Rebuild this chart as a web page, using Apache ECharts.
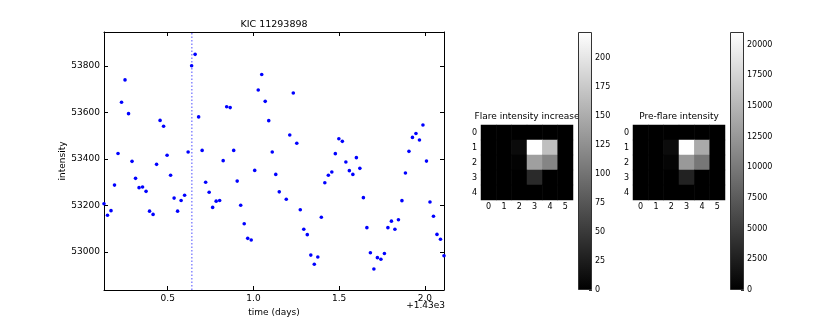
<!DOCTYPE html>
<html><head><meta charset="utf-8">
<script src="https://cdn.jsdelivr.net/npm/echarts@6/dist/echarts.min.js"></script>
<style>html,body{margin:0;padding:0;background:#fff}#c{width:830px;height:332px}</style>
</head><body><div id="c"></div>
<script>
// ---- data ----
const times = [0.1285,0.1489,0.1694,0.1898,0.2103,0.2307,0.2511,0.2716,0.2920,0.3125,
0.3329,0.3533,0.3738,0.3942,0.4147,0.4351,0.4555,0.4760,0.4964,0.5169,
0.5373,0.5577,0.5782,0.5986,0.6191,0.6395,0.6599,0.6804,0.7008,0.7213,
0.7417,0.7621,0.7826,0.8030,0.8235,0.8439,0.8643,0.8848,0.9052,0.9257,
0.9461,0.9665,0.9870,1.0074,1.0279,1.0483,1.0687,1.0892,1.1096,1.1301,
1.1505,1.1914,1.2118,1.2323,1.2527,1.2731,1.2936,1.3140,1.3345,1.3549,
1.3753,1.3958,1.4162,1.4367,1.4571,1.4775,1.4980,1.5184,1.5389,1.5593,
1.5797,1.6002,1.6206,1.6411,1.6615,1.6819,1.7024,1.7228,1.7433,1.7637,
1.7841,1.8046,1.8250,1.8455,1.8659,1.8863,1.9068,1.9272,1.9477,1.9681,
1.9885,2.0090,2.0294,2.0499,2.0703,2.0907,2.1112];
const intensity = [53208,53158,53178,53288,53424,53644,53740,53595,53390,53317,
53277,53280,53261,53176,53162,53377,53566,53541,53416,53330,
53232,53176,53222,53244,53430,53801,53850,53581,53437,53300,
53257,53192,53219,53222,53393,53625,53621,53437,53305,53201,
53122,53059,53052,53351,53697,53763,53648,53565,53430,53334,
53259,53227,53503,53684,53468,53182,53098,53075,52987,52948,
52979,53150,53298,53330,53344,53423,53487,53476,53387,53350,
53334,53406,53360,53234,53105,52997,52927,52976,52969,52994,
53105,53133,53098,53139,53221,53340,53433,53493,53510,53482,
53546,53391,53215,53154,53076,53055,52984];
const flareTime = 0.641;
const timeOffsetText = '+1.43e3';
const xRange = [0.1285, 2.1112];
const yRange = [52837, 53946];

const heatCols = ['0','1','2','3','4','5'];
const heatRows = ['0','1','2','3','4'];
const flareIncrease = [
  [0,0,0,0,0,0],
  [0,0,10,222,167,0],
  [0,0,3,139,116,0],
  [0,0,0,37,0,0],
  [0,0,0,0,0,0]
];
const preFlare = [
  [0,0,0,0,0,0],
  [0,0,1000,21034,14000,0],
  [0,0,400,12600,9800,0],
  [0,0,0,2800,0,0],
  [0,0,0,0,0,0]
];
const cb1Max = 222.4, cb1Step = 25;
const cb2Max = 21034, cb2Step = 2500;
const mainTitle = 'KIC 11293898';
const heatTitle1 = 'Flare intensity increase';
const heatTitle2 = 'Pre-flare intensity';

// ---- chart ----
const FF = 'DejaVu Sans';
const plain = v => String(v);
const toCells = m => { const out=[]; m.forEach((row,r)=>row.forEach((v,c)=>out.push([c,r,v]))); return out; };
const grad = () => new echarts.graphic.LinearGradient(0,1,0,0,[{offset:0,color:'#000000'},{offset:1,color:'#ffffff'}]);
const lineBlack = {show:true, lineStyle:{color:'#000', width:1}};
const tickIn = {show:true, inside:true, length:4, lineStyle:{color:'#000'}};

const chart = echarts.init(document.getElementById('c'), null, {renderer:'canvas'});
chart.setOption({
  animation:false,
  textStyle:{fontFamily:FF},
  grid:[
    {left:104, top:32, width:340, height:258},
    {left:481, top:125, width:92, height:75},
    {left:578, top:32, width:14, height:258},
    {left:633, top:125, width:92, height:75},
    {left:730, top:32, width:14, height:258}
  ],
  xAxis:[
    {type:'value', gridIndex:0, position:'bottom', min:xRange[0], max:xRange[1], splitNumber:4, minInterval:0.5, maxInterval:0.5,
     axisLine:lineBlack, axisTick:tickIn, splitLine:{show:false},
     axisLabel:{fontSize:9, color:'#000', fontFamily:FF, margin:4, showMinLabel:false, showMaxLabel:false, formatter:v=>v.toFixed(1)},
     name:'time (days)', nameLocation:'middle', nameGap:13, nameTextStyle:{fontSize:9, color:'#000', fontFamily:FF}},
    {type:'value', gridIndex:0, position:'top', min:xRange[0], max:xRange[1], splitNumber:4, minInterval:0.5, maxInterval:0.5,
     axisLine:lineBlack, axisTick:tickIn, splitLine:{show:false}, axisLabel:{show:false}},
    {type:'category', gridIndex:1, data:heatCols, axisLine:{show:false}, axisTick:{show:false}, splitLine:{show:false},
     axisLabel:{fontSize:8, color:'#000', fontFamily:FF, margin:3}},
    {type:'category', gridIndex:2, data:['c'], show:false},
    {type:'category', gridIndex:3, data:heatCols, axisLine:{show:false}, axisTick:{show:false}, splitLine:{show:false},
     axisLabel:{fontSize:8, color:'#000', fontFamily:FF, margin:3}},
    {type:'category', gridIndex:4, data:['c'], show:false}
  ],
  yAxis:[
    {type:'value', gridIndex:0, position:'left', min:yRange[0], max:yRange[1], splitNumber:5, minInterval:200, maxInterval:200,
     axisLine:lineBlack, axisTick:tickIn, splitLine:{show:false},
     axisLabel:{fontSize:9, color:'#000', fontFamily:FF, margin:4, showMinLabel:false, showMaxLabel:false, formatter:plain},
     name:'intensity', nameLocation:'middle', nameGap:31, nameRotate:90, nameTextStyle:{fontSize:9, color:'#000', fontFamily:FF}},
    {type:'value', gridIndex:0, position:'right', min:yRange[0], max:yRange[1], splitNumber:5, minInterval:200, maxInterval:200,
     axisLine:lineBlack, axisTick:tickIn, splitLine:{show:false}, axisLabel:{show:false}},
    {type:'category', gridIndex:1, data:heatRows, inverse:true, axisLine:{show:false}, axisTick:{show:false}, splitLine:{show:false},
     axisLabel:{fontSize:8, color:'#000', fontFamily:FF, margin:4}},
    {type:'value', gridIndex:2, position:'right', min:0, max:cb1Max, interval:cb1Step,
     axisLine:{show:false}, axisTick:{show:true, inside:true, length:3, lineStyle:{color:'#333'}}, splitLine:{show:false},
     axisLabel:{fontSize:8, color:'#000', fontFamily:FF, margin:3, showMaxLabel:false, formatter:plain}},
    {type:'category', gridIndex:3, data:heatRows, inverse:true, axisLine:{show:false}, axisTick:{show:false}, splitLine:{show:false},
     axisLabel:{fontSize:8, color:'#000', fontFamily:FF, margin:4}},
    {type:'value', gridIndex:4, position:'right', min:0, max:cb2Max, interval:cb2Step,
     axisLine:{show:false}, axisTick:{show:true, inside:true, length:3, lineStyle:{color:'#333'}}, splitLine:{show:false},
     axisLabel:{fontSize:8, color:'#000', fontFamily:FF, margin:3, showMaxLabel:false, formatter:plain}}
  ],
  visualMap:[
    {type:'continuous', show:false, min:0, max:cb1Max, seriesIndex:1, inRange:{color:['#000000','#ffffff']}},
    {type:'continuous', show:false, min:0, max:cb2Max, seriesIndex:3, inRange:{color:['#000000','#ffffff']}}
  ],
  series:[
    {type:'scatter', xAxisIndex:0, yAxisIndex:0, symbolSize:3.6, z:3, itemStyle:{color:'#0000ff', opacity:1},
     data: times.map((t,i)=>[t, intensity[i]])},
    {type:'heatmap', xAxisIndex:2, yAxisIndex:2, data:toCells(flareIncrease)},
    {type:'bar', xAxisIndex:3, yAxisIndex:3, barWidth:'100%', z:5, data:[cb1Max],
     itemStyle:{color:grad(), borderColor:'#333', borderWidth:1}},
    {type:'heatmap', xAxisIndex:4, yAxisIndex:4, data:toCells(preFlare)},
    {type:'bar', xAxisIndex:5, yAxisIndex:5, barWidth:'100%', z:5, data:[cb2Max],
     itemStyle:{color:grad(), borderColor:'#333', borderWidth:1}},
    {type:'line', xAxisIndex:0, yAxisIndex:0, z:2, symbol:'none', silent:true,
     lineStyle:{color:'#4d4dff', type:[1.5,2], width:1},
     data:[[flareTime, yRange[0]], [flareTime, yRange[1]]]}
  ],
  graphic:[
    {type:'text', x:274, y:25, z:0, style:{text:mainTitle, align:'center', verticalAlign:'middle', font:'9.5px "DejaVu Sans"', fill:'#000'}},
    {type:'text', x:527, y:117, z:0, style:{text:heatTitle1, align:'center', verticalAlign:'middle', font:'9px "DejaVu Sans"', fill:'#000'}},
    {type:'text', x:679, y:117, z:0, style:{text:heatTitle2, align:'center', verticalAlign:'middle', font:'9px "DejaVu Sans"', fill:'#000'}},
    {type:'text', x:445, y:306, z:0, style:{text:timeOffsetText, align:'right', verticalAlign:'middle', font:'9px "DejaVu Sans"', fill:'#000'}}
  ]
});
</script></body></html>
